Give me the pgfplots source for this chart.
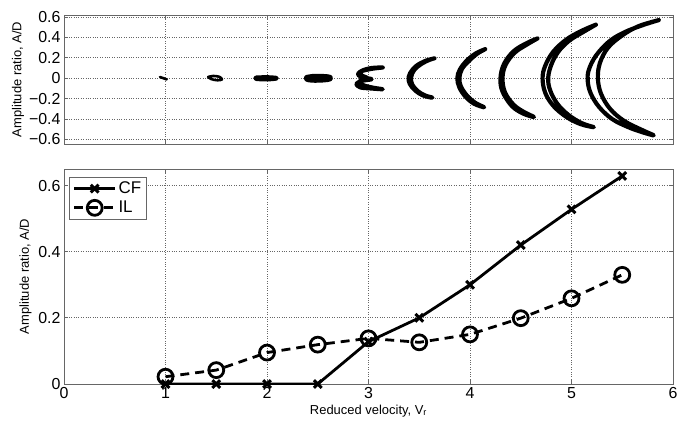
\documentclass[border=0pt]{standalone}
\usepackage{fontspec}
\setmainfont{Liberation Sans}
\usepackage{pgfplots}
\pgfplotsset{compat=1.18}
\begin{document}
\begin{tikzpicture}[x=1bp,y=1bp]
\useasboundingbox (0,0) rectangle (678,425);
\pgfplotsset{
  mybase/.style={
    scale only axis, width=609bp,
    xmin=0, xmax=6, xtick={0,1,2,3,4,5,6},
    grid=major,
    major grid style={dotted, line width=0.8pt, black!60},
    axis line style={black!60, line width=0.9pt},
    tick style={black!60, line width=0.8pt},
    tick align=inside, major tick length=4bp,
    ticklabel style={font=\fontsize{16}{16}\selectfont},
    label style={font=\fontsize{13}{13}\selectfont},
    /pgf/number format/assume math mode=true,
  },
  orb/.style={black, line width=4.2pt, smooth, line cap=round, line join=round, tension=0.6},
}
% ---------------- top panel: orbits
\begin{axis}[mybase,
  at={(64bp,281bp)}, anchor=south west, height=129bp,
  ymin=-0.645, ymax=0.62,
  ytick={-0.6,-0.4,-0.2,0,0.2,0.4,0.6},
  yticklabels={−0.6,−0.4,−0.2,0,0.2,0.4,0.6},
  xticklabels={},
  ylabel={Amplitude ratio, A/D},
  ylabel style={yshift=-2bp},
  no markers]
\addplot[orb, line width=2.6pt] coordinates {(0.945,0.012) (0.98,0.0) (1.012,-0.012)};
\addplot[orb, line width=2.6pt] coordinates {(1.42,0.012)(1.47,0.022)(1.53,0.014)(1.556,-0.012)(1.51,-0.02)(1.45,-0.008)(1.42,0.012)};
\addplot[orb, line width=4.5pt] coordinates {(1.895,0.005)(2.0,0.008)(2.095,0.0)(2.0,-0.01)(1.895,-0.005)(1.895,0.005)};
\addplot[orb, line width=4.5pt] coordinates {(2.39,0.01)(2.45,0.02)(2.55,0.02)(2.62,0.012)(2.62,-0.01)(2.55,-0.02)(2.45,-0.022)(2.39,-0.012)(2.39,0.01)};
\addplot[orb] coordinates {(3.14,0.105)(3.03,0.092)(2.92,0.065)(2.90,0.03)(2.96,0.005)(3.03,-0.01)(2.94,-0.025)(2.88,-0.055)(2.92,-0.09)(3.02,-0.10)(3.14,-0.108)(3.03,-0.09)(2.93,-0.06)(2.92,-0.02)(2.99,0.0)(2.93,0.03)(2.93,0.07)(3.03,0.1)(3.14,0.105)};
\addplot[orb] coordinates {(3.65,0.195)(3.56,0.17)(3.47,0.12)(3.41,0.05)(3.395,-0.02)(3.43,-0.09)(3.50,-0.15)(3.57,-0.18)(3.63,-0.19)(3.56,-0.17)(3.49,-0.13)(3.43,-0.06)(3.42,0.01)(3.45,0.08)(3.52,0.14)(3.60,0.18)(3.65,0.195)};
\addplot[orb] coordinates {(4.15,0.285)(4.06,0.245)(3.97,0.175)(3.90,0.085)(3.875,0.0)(3.895,-0.09)(3.955,-0.18)(4.04,-0.25)(4.14,-0.285)(4.05,-0.24)(3.97,-0.17)(3.91,-0.08)(3.895,0.0)(3.92,0.09)(3.99,0.17)(4.07,0.24)(4.15,0.285)};
\addplot[orb] coordinates {(4.665,0.39)(4.56,0.345)(4.43,0.265)(4.335,0.14)(4.30,0.0)(4.32,-0.13)(4.41,-0.27)(4.52,-0.345)(4.63,-0.38)(4.53,-0.33)(4.43,-0.26)(4.345,-0.14)(4.32,0.0)(4.35,0.13)(4.44,0.25)(4.56,0.33)(4.665,0.39)};
\addplot[orb] coordinates {(5.24,0.525)(5.10,0.465)(4.95,0.38)(4.82,0.26)(4.74,0.12)(4.715,0.0)(4.74,-0.14)(4.82,-0.27)(4.95,-0.38)(5.09,-0.45)(5.22,-0.48)(5.10,-0.44)(4.97,-0.36)(4.86,-0.25)(4.79,-0.12)(4.77,0.0)(4.80,0.13)(4.87,0.26)(4.98,0.37)(5.11,0.45)(5.24,0.525)};
\addplot[orb] coordinates {(5.86,0.57)(5.70,0.52)(5.52,0.45)(5.37,0.36)(5.24,0.22)(5.17,0.08)(5.16,-0.03)(5.19,-0.15)(5.27,-0.28)(5.40,-0.40)(5.56,-0.48)(5.70,-0.53)(5.81,-0.56)(5.70,-0.51)(5.52,-0.42)(5.38,-0.30)(5.29,-0.15)(5.26,0.0)(5.28,0.15)(5.36,0.30)(5.50,0.42)(5.66,0.51)(5.86,0.57)};
\end{axis}
% ---------------- bottom panel
\begin{axis}[mybase,
  at={(64bp,41bp)}, anchor=south west, height=215bp,
  ymin=0, ymax=0.65,
  ytick={0,0.2,0.4,0.6},
  yticklabels={0,0.2,0.4,0.6},
  xticklabels={0,1,2,3,4,5,6},
  xlabel={Reduced velocity, V\textsubscript{r}},
  ylabel={Amplitude ratio, A/D},
  xlabel style={yshift=1bp},
  legend style={at={(0.009,0.965)}, anchor=north west, draw=black!60, line width=0.9pt,
    font=\fontsize{17}{17}\selectfont, inner sep=3pt, row sep=2pt},
  legend cell align=left,
  legend image code/.code={\draw[mark repeat=2,mark phase=2] plot coordinates {(0cm,0cm)(0.72cm,0cm)(1.44cm,0cm)};},
]
\addplot[black, line width=2.8pt, mark=x, mark size=5.5pt, mark options={solid, line width=3pt}]
  coordinates {(1,0)(1.5,0)(2,0)(2.5,0)(3,0.128)(3.5,0.20)(4,0.30)(4.5,0.42)(5,0.528)(5.5,0.629)};
\addlegendentry{CF}
\addplot[black, line width=2.8pt, dash pattern=on 9pt off 6pt, mark=o, mark size=7.5pt, mark options={solid, line width=2.8pt}]
  coordinates {(1,0.022)(1.5,0.042)(2,0.095)(2.5,0.119)(3,0.138)(3.5,0.126)(4,0.150)(4.5,0.199)(5,0.259)(5.5,0.330)};
\addlegendentry{IL}
\end{axis}
\end{tikzpicture}
\end{document}
